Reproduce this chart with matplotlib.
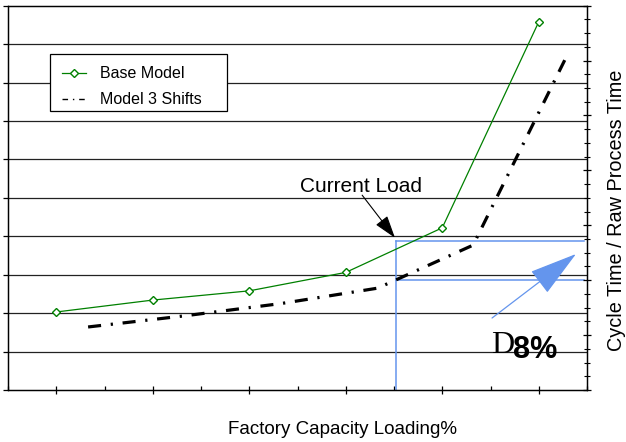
import matplotlib
matplotlib.use("Agg")
import matplotlib.pyplot as plt
from matplotlib.lines import Line2D
from matplotlib.patches import FancyArrowPatch, Rectangle
from matplotlib.ticker import MultipleLocator

plt.rcParams['font.family'] = ['Liberation Sans', 'DejaVu Sans']
plt.rcParams['lines.scale_dashes'] = False

# data (y in gridline units, 0..10)
categories = [1, 2, 3, 4, 5, 6]
base_model = [2.03, 2.34, 2.58, 3.06, 4.22, 9.58]
shift_x = [1.33, 2.33, 3.33, 4.33, 5.32, 6.30]
shifts_model = [1.64, 1.93, 2.25, 2.65, 3.77, 8.74]
series_names = ['Base Model', 'Model 3 Shifts']

current_load = 4.52
level_base = 3.88
level_shift = 2.86

green = '#008000'
blue = '#6495ED'

W, H = 626, 442
fig = plt.figure(figsize=(W / 100, H / 100), dpi=100)
ax = fig.add_axes([8 / W, 1 - 390 / H, 579 / W, 384.3 / H])

# gridlines
for g in range(1, 10):
    ax.axhline(g, color='#222222', lw=0.9, zorder=1)

ax.plot(categories, base_model, color=green, lw=0.9, marker='D', markersize=4,
        markerfacecolor='white', markeredgecolor=green, markeredgewidth=1, zorder=4)
ax.plot(shift_x, shifts_model, color='black', lw=2.3, solid_capstyle='butt',
        dash_capstyle='butt', linestyle=(0, (9.4, 7, 1.6, 7)), zorder=3)

# current load markers
ax.plot([current_load, current_load], [0, level_base], color=blue, lw=1.1, zorder=2)
ax.plot([current_load, 6.47], [level_base, level_base], color=blue, lw=1.1, zorder=2)
ax.plot([current_load, 6.47], [level_shift, level_shift], color=blue, lw=1.1, zorder=2)

ax.set_xlim(0.5, 6.5)
ax.set_ylim(0, 10)

ax.text(3.526, 5.15, 'Current Load', fontsize=15, ha='left', va='baseline')
ax.add_patch(FancyArrowPatch((4.17, 5.07), (4.51, 3.96), arrowstyle='-|>,head_length=14,head_width=4.5',
                             mutation_scale=1, color='black', lw=0.8, shrinkA=0, shrinkB=0, zorder=5))
ax.add_patch(FancyArrowPatch((5.516, 1.873), (6.386, 3.539), arrowstyle='-|>,head_length=31,head_width=8.8',
                             mutation_scale=1, color=blue, lw=0.9, shrinkA=0, shrinkB=0, zorder=5))

ax.text(5.51, 0.963, 'D', fontsize=23, family=['Liberation Serif', 'DejaVu Serif'],
        ha='left', va='baseline', zorder=6)
ax.text(5.733, 0.833, '8%', fontsize=22, fontweight='bold', ha='left', va='baseline', zorder=6)

# ticks
ax.xaxis.set_major_locator(MultipleLocator(1))
ax.xaxis.set_minor_locator(MultipleLocator(0.5))
ax.tick_params(axis='x', which='major', direction='inout', length=6, width=0.9, labelbottom=False)
ax.tick_params(axis='x', which='minor', direction='in', length=3, width=0.9)
ax.yaxis.set_major_locator(MultipleLocator(1))
ax.tick_params(axis='y', which='major', direction='out', length=3.6, width=0.9, labelleft=False)
for s in ax.spines.values():
    s.set_linewidth(0.9)

ax2 = ax.twinx()
ax2.set_ylim(0, 7)
ax2.yaxis.set_major_locator(MultipleLocator(1))
ax2.yaxis.set_minor_locator(MultipleLocator(0.25))
ax2.tick_params(axis='y', which='major', direction='inout', length=6, width=0.9, labelright=False)
ax2.tick_params(axis='y', which='minor', direction='inout', length=4, width=0.8)
for s in ax2.spines.values():
    s.set_linewidth(0.9)

# legend box drawn by hand (pixel layout of the original)
fig.patches.append(Rectangle((50 / W, 1 - 111 / H), 177 / W, 57 / H, transform=fig.transFigure,
                             facecolor='white', edgecolor='black', lw=0.9, zorder=10))
rows = [1 - 73 / H, 1 - 99 / H]
fig.lines.append(Line2D([62 / W, 86 / W], [rows[0], rows[0]], transform=fig.transFigure,
                        color=green, lw=0.9, zorder=11))
fig.lines.append(Line2D([74 / W], [rows[0]], transform=fig.transFigure, color=green,
                        marker='D', markersize=4, markerfacecolor='white', zorder=12))
fig.lines.append(Line2D([62 / W, 86 / W], [rows[1], rows[1]], transform=fig.transFigure,
                        color='black', lw=1, linestyle=(0, (4, 3.5, 1, 3.5)), zorder=11))
for r, name in zip(rows, series_names):
    fig.text(100 / W, r, name, fontsize=11.5, ha='left', va='center', zorder=12)

fig.text(342 / W, 1 - 430 / H, 'Factory Capacity Loading%', fontsize=13.5,
         ha='center', va='center')
fig.text(616 / W, 1 - 210 / H, 'Cycle Time / Raw Process Time', fontsize=14.3,
         ha='center', va='center', rotation=90)

fig.savefig('out.png', dpi=100)
